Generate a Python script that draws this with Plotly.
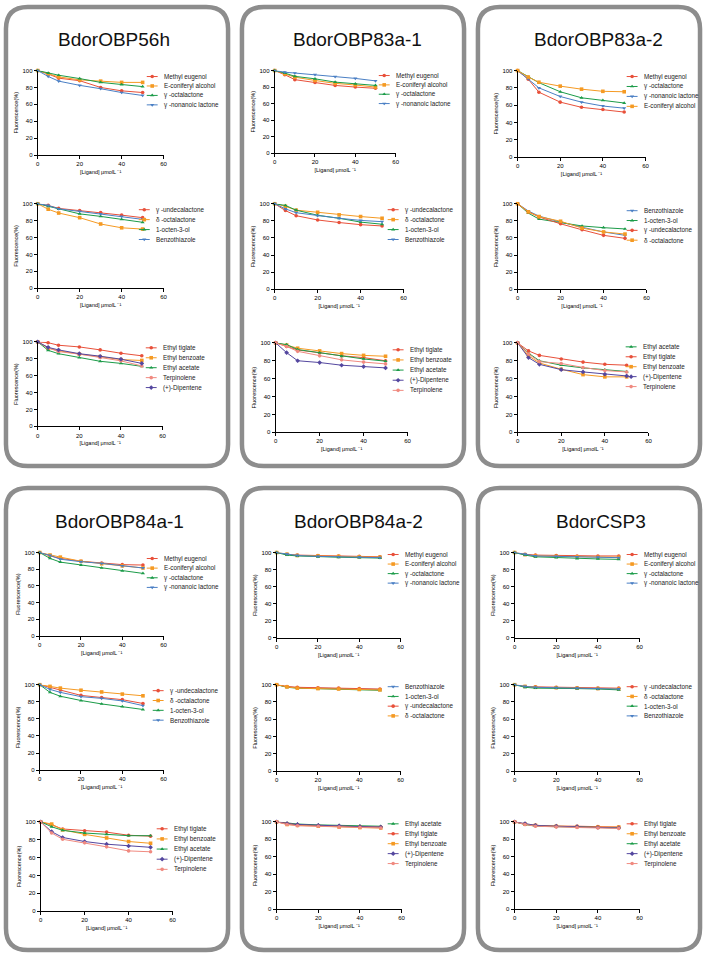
import plotly.graph_objects as go

# ---------------- data ----------------
DOSE = [0, 5, 10, 20, 30, 40, 50]
X_TICKS = [0, 20, 40, 60]
Y_TICKS = [0, 20, 40, 60, 80, 100]
PANEL_TITLES = ["BdorOBP56h", "BdorOBP83a-1", "BdorOBP83a-2",
                "BdorOBP84a-1", "BdorOBP84a-2", "BdorCSP3"]
X_TITLE = "[Ligand] μmolL ⁻¹"
Y_TITLE = "Fluorescence(%)"

# BdorOBP56h
P1A_NAMES = ["Methyl eugenol", "E-coniferyl alcohol", "γ -octalactone", "γ -nonanoic lactone"]
P1A_VALUES = [[100, 96, 91, 88, 80, 76, 74],
              [100, 96, 92.5, 89, 87.5, 86, 86],
              [100, 97, 94.5, 90.5, 86, 83.5, 81],
              [100, 93, 87.5, 82.5, 78.5, 74, 70.5]]
P1B_NAMES = ["γ -undecalactone", "δ -octalactone", "1-octen-3-ol", "Benzothiazole"]
P1B_VALUES = [[100, 98, 94.5, 92, 89.5, 86.5, 83.5],
              [100, 93.5, 89, 83.5, 76, 71.5, 70],
              [100, 97, 93.5, 88, 85, 81.5, 78],
              [100, 98, 94, 91, 88, 85, 81.5]]
P1C_NAMES = ["Ethyl tiglate", "Ethyl benzoate", "Ethyl acetate", "Terpinolene", "(+)-Dipentene"]
P1C_VALUES = [[100, 99, 96, 94, 90.5, 86.5, 83.5],
              [100, 92.5, 89.5, 85.5, 82.5, 79, 78],
              [100, 90, 86, 81.5, 77, 74.5, 71],
              [100, 93, 88.5, 85.5, 81.5, 77.5, 71.5],
              [100, 93.5, 90.5, 86, 83, 79.5, 74.5]]

# BdorOBP83a-1
P2A_NAMES = ["Methyl eugenol", "E-coniferyl alcohol", "γ -octalactone", "γ -nonanoic lactone"]
P2A_VALUES = [[100, 95, 89, 85.5, 82, 80, 78.5],
              [100, 96, 92, 88, 84.5, 82.5, 80],
              [100, 97, 93, 90, 86, 84, 82],
              [100, 98, 97, 95, 92.5, 90.5, 87.5]]
P2B_NAMES = ["γ -undecalactone", "δ -octalactone", "1-octen-3-ol", "Benzothiazole"]
P2B_VALUES = [[100, 92, 86, 81, 78, 75.5, 74],
              [100, 97, 92.5, 90, 87, 85, 83],
              [100, 98, 92.5, 86.5, 83, 78.5, 76],
              [100, 94, 89.5, 86, 83, 80.5, 79]]
P2C_NAMES = ["Ethyl tiglate", "Ethyl benzoate", "Ethyl acetate", "(+)-Dipentene", "Terpinolene"]
P2C_VALUES = [[100, 96, 92, 89, 85.5, 83.5, 80],
              [100, 97.5, 94, 91, 88, 86, 85],
              [100, 98, 92.5, 89, 85, 82, 79.5],
              [100, 89, 80, 78, 75, 73.5, 72],
              [100, 96, 90.5, 85.5, 81, 78.5, 76.5]]

# BdorOBP83a-2
P3A_NAMES = ["Methyl eugenol", "γ -octalactone", "γ -nonanoic lactone", "E-coniferyl alcohol"]
P3A_VALUES = [[100, 90, 75, 63.5, 57.5, 55, 52],
              [100, 92.5, 86, 75.5, 68.5, 65.5, 62.5],
              [100, 90.5, 80, 70, 63.5, 59, 56.5],
              [100, 92.5, 86.5, 82, 78.5, 76, 75.5]]
P3B_NAMES = ["Benzothiazole", "1-octen-3-ol", "γ -undecalactone", "δ -octalactone"]
P3B_VALUES = [[100, 91.5, 85.5, 78.5, 72.5, 67, 63],
              [100, 89, 82, 78, 74, 72, 70.5],
              [100, 90.5, 84.5, 76.5, 69.5, 63, 59.5],
              [100, 90.5, 85, 79.5, 71.5, 67, 64.5]]
P3C_NAMES = ["Ethyl acetate", "Ethyl tiglate", "Ethyl benzoate", "(+)-Dipentene", "Terpinolene"]
P3C_VALUES = [[100, 88.5, 80, 75, 72, 70, 68],
              [100, 91, 86, 82, 78.5, 76, 75],
              [100, 85.5, 77.5, 70.5, 64.5, 62, 62],
              [100, 83.5, 76, 70, 67.5, 65, 63],
              [100, 87.5, 79, 77, 72.5, 69, 67.5]]

# BdorOBP84a-1
P4A_NAMES = ["Methyl eugenol", "E-coniferyl alcohol", "γ -octalactone", "γ -nonanoic lactone"]
P4A_VALUES = [[100, 96, 93, 89.5, 87.5, 85.5, 85],
              [100, 97, 94.5, 89.5, 86.5, 84, 81.5],
              [100, 93, 88.5, 85, 81.5, 78, 75],
              [100, 96.5, 92, 89, 87, 84, 81.5]]
P4B_NAMES = ["γ -undecalactone", "δ -octalactone", "1-octen-3-ol", "Benzothiazole"]
P4B_VALUES = [[100, 97, 94, 87.5, 85, 82.5, 78],
              [100, 98, 96, 93.5, 91.5, 89, 87],
              [100, 91, 86.5, 81.5, 77.5, 74.5, 71],
              [100, 94.5, 91, 86, 84, 81, 75.5]]
P4C_NAMES = ["Ethyl tiglate", "Ethyl benzoate", "Ethyl acetate", "(+)-Dipentene", "Terpinolene"]
P4C_VALUES = [[100, 96.5, 92, 90, 88.5, 85, 84],
              [100, 97.5, 91, 86, 82, 78, 76],
              [100, 94.5, 90.5, 87.5, 86, 84.5, 84.5],
              [100, 89, 82.5, 78, 75, 73, 71.5],
              [100, 87.5, 80.5, 76.5, 72, 67.5, 66.5]]

# BdorOBP84a-2
P5A_NAMES = ["Methyl eugenol", "E-coniferyl alcohol", "γ -octalactone", "γ -nonanoic lactone"]
P5A_VALUES = [[100, 98, 97, 96.5, 96, 95.5, 95],
              [100, 98, 96.5, 96, 95.5, 95, 94.5],
              [100, 97, 96, 95, 94.5, 94, 93.5],
              [100, 98, 96.5, 95.5, 95, 94.5, 94]]
P5B_NAMES = ["Benzothiazole", "1-octen-3-ol", "γ -undecalactone", "δ -octalactone"]
P5B_VALUES = [[100, 97.5, 96.5, 96, 95.5, 95, 94.5],
              [100, 97, 96, 95.5, 95, 94.5, 93.5],
              [100, 98, 97, 96.5, 96, 95.5, 95],
              [100, 97.5, 96, 95.5, 95, 94.5, 94]]
P5C_NAMES = ["Ethyl acetate", "Ethyl tiglate", "Ethyl benzoate", "(+)-Dipentene", "Terpinolene"]
P5C_VALUES = [[100, 98.5, 97.5, 96.5, 96, 95.5, 95],
              [100, 98, 96.5, 95.5, 95, 94.5, 94],
              [100, 97, 96, 95, 94, 93.5, 93],
              [100, 98, 97, 96, 95.5, 94.5, 94],
              [100, 97, 95.5, 95, 94, 93.5, 93]]

# BdorCSP3
P6A_NAMES = ["Methyl eugenol", "E-coniferyl alcohol", "γ -octalactone", "γ -nonanoic lactone"]
P6A_VALUES = [[100, 98, 97, 96.5, 96, 96, 96],
              [100, 97.5, 96, 95.5, 95, 94.5, 94.5],
              [100, 97, 95, 94, 93, 92.5, 92],
              [100, 98, 96, 95.5, 95, 94.5, 94]]
P6B_NAMES = ["γ -undecalactone", "δ -octalactone", "1-octen-3-ol", "Benzothiazole"]
P6B_VALUES = [[100, 98, 97.5, 97, 96.5, 96, 96],
              [100, 98, 97, 96.5, 96, 95.5, 95],
              [100, 97, 96, 96, 95.5, 95, 94],
              [100, 98, 97, 96.5, 96, 95.5, 95]]
P6C_NAMES = ["Ethyl tiglate", "Ethyl benzoate", "Ethyl acetate", "(+)-Dipentene", "Terpinolene"]
P6C_VALUES = [[100, 97, 96, 95, 95, 94.5, 94],
              [100, 97.5, 96, 95, 94.5, 94, 94],
              [100, 97, 95, 94.5, 94, 93.5, 93],
              [100, 98, 96, 95, 94.5, 93.5, 93],
              [100, 97, 95, 94, 93.5, 93, 92.5]]

SUBPLOT_NAMES = [[P1A_NAMES, P1B_NAMES, P1C_NAMES], [P2A_NAMES, P2B_NAMES, P2C_NAMES],
                 [P3A_NAMES, P3B_NAMES, P3C_NAMES], [P4A_NAMES, P4B_NAMES, P4C_NAMES],
                 [P5A_NAMES, P5B_NAMES, P5C_NAMES], [P6A_NAMES, P6B_NAMES, P6C_NAMES]]
SUBPLOT_VALUES = [[P1A_VALUES, P1B_VALUES, P1C_VALUES], [P2A_VALUES, P2B_VALUES, P2C_VALUES],
                  [P3A_VALUES, P3B_VALUES, P3C_VALUES], [P4A_VALUES, P4B_VALUES, P4C_VALUES],
                  [P5A_VALUES, P5B_VALUES, P5C_VALUES], [P6A_VALUES, P6B_VALUES, P6C_VALUES]]

# ---------------- styles ----------------
RED, ORANGE, GREEN, BLUE, PURPLE, PINK = "#e8503a", "#f59a23", "#1b9b48", "#4a7fc4", "#54479f", "#f08a80"
STYLE = {
    "Methyl eugenol": (RED, "circle"),
    "E-coniferyl alcohol": (ORANGE, "square"),
    "γ -octalactone": (GREEN, "triangle-up"),
    "γ -nonanoic lactone": (BLUE, "triangle-down"),
    "γ -undecalactone": (RED, "circle"),
    "δ -octalactone": (ORANGE, "square"),
    "1-octen-3-ol": (GREEN, "triangle-up"),
    "Benzothiazole": (BLUE, "triangle-down"),
    "Ethyl tiglate": (RED, "circle"),
    "Ethyl benzoate": (ORANGE, "square"),
    "Ethyl acetate": (GREEN, "triangle-up"),
    "(+)-Dipentene": (PURPLE, "diamond"),
    "Terpinolene": (PINK, "circle"),
}
FONT = "Liberation Sans, Arial, sans-serif"
W, H = 708, 957
MARKER_SIZE = 3.6

# ---------------- layout geometry (pixels) ----------------
PANEL_BOX = [(4, 4, 228, 466), (242, 4, 466, 466), (480, 4, 704, 466),
             (4, 488, 228, 953), (242, 488, 466, 953), (480, 488, 704, 953)]
TITLE_POS = [(113, 37), (359, 37), (602, 37), (119, 522), (360, 522), (604, 522)]
# (x at 0, x at 60, y at 100, y at 0)
SUB_GEOM = [
    [(36, 163, 68, 153), (36, 163, 202, 287), (36, 162, 341, 426)],
    [(275, 397, 68, 151), (275, 405, 202, 288), (276, 409, 342, 432)],
    [(520, 649, 68, 155), (520, 650, 202, 288), (520, 652, 342, 432)],
    [(38, 163, 553, 637), (38, 163, 686, 772), (39, 172, 824, 914)],
    [(277, 402, 553, 639), (277, 402, 686, 773), (277, 403, 824, 912)],
    [(517, 643, 553, 639), (517, 643, 686, 773), (517, 643, 824, 912)],
]
# (text x, first row y, row step)
LEG_POS = [
    [(161, 74, 9.5), (153, 208, 10), (160, 347, 10)],
    [(395, 73, 9.4), (404, 208, 10), (409, 349, 10.2)],
    [(645, 74, 10), (645, 209, 9.9), (644, 346, 10)],
    [(161, 559, 9.7), (167, 692, 9.9), (171, 831, 10.2)],
    [(404, 555, 9.6), (404, 688, 9.8), (404, 826, 10)],
    [(645, 555, 9.6), (645, 688, 9.8), (645, 826, 10)],
]

fig = go.Figure()
layout = dict(width=W, height=H, margin=dict(l=0, r=0, t=0, b=0),
              paper_bgcolor="white", plot_bgcolor="rgba(0,0,0,0)",
              showlegend=False, font=dict(family=FONT, color="black"))
annotations, shapes = [], []
OV = 19  # overlay axis id in pixel coordinates
layout["xaxis%d" % OV] = dict(domain=[0, 1], range=[0, W], visible=False, fixedrange=True)
layout["yaxis%d" % OV] = dict(domain=[0, 1], range=[H, 0], visible=False, fixedrange=True)
OX, OY = "x%d" % OV, "y%d" % OV


def rounded_path(x0, y0, x1, y1, r):
    return (f"M{x0 + r},{y0} L{x1 - r},{y0} Q{x1},{y0} {x1},{y0 + r} "
            f"L{x1},{y1 - r} Q{x1},{y1} {x1 - r},{y1} L{x0 + r},{y1} "
            f"Q{x0},{y1} {x0},{y1 - r} L{x0},{y0 + r} Q{x0},{y0} {x0 + r},{y0} Z")


for p in range(6):
    bx0, by0, bx1, by1 = PANEL_BOX[p]
    shapes.append(dict(type="path", path=rounded_path(bx0, by0, bx1, by1, 22),
                       xref=OX, yref=OY, line=dict(color="#8d8d8d", width=4.5), layer="above"))
    tx, ty = TITLE_POS[p]
    annotations.append(dict(text=PANEL_TITLES[p], x=tx, y=ty, xref=OX, yref=OY,
                            showarrow=False, font=dict(size=19, family=FONT, color="#111")))
    for s in range(3):
        k = p * 3 + s + 1
        xl, xr, yt, yb = SUB_GEOM[p][s]
        axis_common = dict(showline=True, linecolor="black", linewidth=1, ticks="outside",
                           ticklen=3, tickwidth=1, tickcolor="black", showgrid=False,
                           zeroline=False, fixedrange=True,
                           tickfont=dict(size=6, family=FONT, color="black"))
        layout["xaxis%d" % k] = dict(domain=[xl / W, xr / W], range=[0, 60], tickvals=X_TICKS,
                                     anchor="y%d" % k,
                                     title=dict(text=X_TITLE, standoff=3,
                                                font=dict(size=5.5, family=FONT, color="black")),
                                     **axis_common)
        layout["yaxis%d" % k] = dict(domain=[1 - yb / H, 1 - yt / H], range=[0, 100],
                                     tickvals=Y_TICKS, anchor="x%d" % k,
                                     title=dict(text=Y_TITLE, standoff=3,
                                                font=dict(size=5.5, family=FONT, color="black")),
                                     **axis_common)
        names = SUBPLOT_NAMES[p][s]
        vals = SUBPLOT_VALUES[p][s]
        for name, v in zip(names, vals):
            col, sym = STYLE[name]
            fig.add_trace(go.Scatter(x=DOSE, y=v, mode="lines+markers", name=name,
                                     xaxis="x%d" % k, yaxis="y%d" % k, cliponaxis=False,
                                     line=dict(color=col, width=1),
                                     marker=dict(color=col, symbol=sym, size=MARKER_SIZE)))
        # compact legend drawn on the pixel overlay axis
        lx, ly, step = LEG_POS[p][s]
        for i, name in enumerate(names):
            col, sym = STYLE[name]
            yy = ly + i * step
            fig.add_trace(go.Scatter(x=[lx - 15, lx - 4], y=[yy, yy], mode="lines",
                                     xaxis=OX, yaxis=OY, hoverinfo="skip",
                                     line=dict(color=col, width=1)))
            fig.add_trace(go.Scatter(x=[lx - 9.5], y=[yy], mode="markers",
                                     xaxis=OX, yaxis=OY, hoverinfo="skip", cliponaxis=False,
                                     marker=dict(color=col, symbol=sym, size=MARKER_SIZE)))
            annotations.append(dict(text=name, x=lx, y=yy, xref=OX, yref=OY,
                                    xanchor="left", yanchor="middle", showarrow=False,
                                    font=dict(size=6.3, family=FONT, color="#222")))

layout["annotations"] = annotations
layout["shapes"] = shapes
fig.update_layout(**layout)
fig.write_html("out.html", config={"displayModeBar": False},
               post_script="document.body.style.margin='0';"
                           "document.body.style.overflow='hidden';")
